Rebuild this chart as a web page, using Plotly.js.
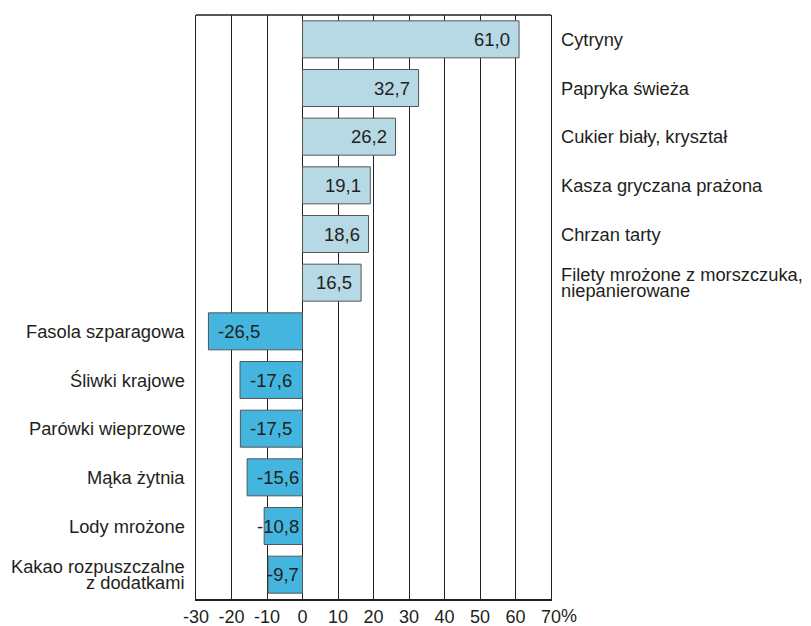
<!DOCTYPE html>
<html>
<head>
<meta charset="utf-8">
<script src="https://cdn.plot.ly/plotly-3.0.1.min.js"></script>
<style>html,body{margin:0;padding:0;background:#fff;}</style>
</head>
<body>
<div id="chart" style="width:811px;height:626px;"></div>
<script>
const categories = [
  "Cytryny",
  "Papryka świeża",
  "Cukier biały, kryształ",
  "Kasza gryczana prażona",
  "Chrzan tarty",
  "Filety mrożone z morszczuka,<br>niepanierowane",
  "Fasola szparagowa",
  "Śliwki krajowe",
  "Parówki wieprzowe",
  "Mąka żytnia",
  "Lody mrożone",
  "Kakao rozpuszczalne<br>z dodatkami"
];
const values = [61.0, 32.7, 26.2, 19.1, 18.6, 16.5, -26.5, -17.6, -17.5, -15.6, -10.8, -9.7];
const tickVals = [-30, -20, -10, 0, 10, 20, 30, 40, 50, 60, 70];
const tickLabels = ["-30", "-20", "-10", "0", "10", "20", "30", "40", "50", "60", "70"];
const unitSuffix = "%";

const posColor = "#b6d9e5";
const negColor = "#44b5de";
const ink = "#231f20";
const font = "Arial, 'Liberation Sans', Helvetica, sans-serif";
const fsVal = 18.5;
const fsCat = 18.3;
const fsTick = 18;

const W = 811, H = 626;
const margin = {l: 196, r: 260, t: 15, b: 27};
const xRange = [-30, 70];
const pxPerUnit = (W - margin.l - margin.r) / (xRange[1] - xRange[0]);

const idx = categories.map((c, i) => i);
const fmt = v => v.toFixed(1).replace(".", ",");

const trace = {
  type: "bar",
  orientation: "h",
  x: values,
  y: idx,
  marker: {
    color: values.map(v => v >= 0 ? posColor : negColor),
    line: {color: "#555555", width: 1}
  },
  hoverinfo: "skip"
};

const annotations = [];
values.forEach((v, i) => {
  const txt = fmt(v);
  const estW = txt.length * 0.5 * fsVal;
  const barW = Math.abs(v) * pxPerUnit;
  let ann;
  if (v >= 0) {
    ann = {x: v, xanchor: "right", xshift: -7};
  } else if (barW >= estW + 14) {
    ann = {x: v, xanchor: "left", xshift: 8};
  } else {
    ann = {x: 0, xanchor: "right", xshift: -2};
  }
  annotations.push(Object.assign(ann, {
    xref: "x", yref: "y", y: i,
    text: txt, showarrow: false,
    font: {family: font, size: fsVal, color: ink}
  }));
  const lines = categories[i].split("<br>");
  const n = lines.length;
  lines.forEach((ln, k) => {
    annotations.push({
      xref: "paper", yref: "y",
      x: v >= 0 ? 1 : 0, y: i,
      text: ln, showarrow: false,
      xanchor: v >= 0 ? "left" : "right",
      xshift: v >= 0 ? 8 : -9,
      yshift: -(k - (n - 1) / 2) * 16.5,
      font: {family: font, size: fsCat, color: ink}
    });
  });
});
annotations.push({
  xref: "x", yref: "paper", x: tickVals[tickVals.length - 1], y: 0,
  text: unitSuffix, showarrow: false, xanchor: "left", yanchor: "top",
  xshift: 8, yshift: -5,
  font: {family: font, size: fsTick, color: ink}
});

const layout = {
  width: W, height: H,
  margin: margin,
  paper_bgcolor: "#ffffff", plot_bgcolor: "#ffffff",
  showlegend: false,
  bargap: 0.24,
  xaxis: {
    range: xRange,
    tickmode: "array", tickvals: tickVals, ticktext: tickLabels,
    showgrid: true, gridcolor: ink, gridwidth: 1,
    zeroline: true, zerolinecolor: ink, zerolinewidth: 1,
    showline: true, linecolor: ink, linewidth: 2,
    ticks: "", ticklabelstandoff: 0,
    tickfont: {family: font, size: fsTick, color: ink},
    fixedrange: true
  },
  yaxis: {
    range: [categories.length - 0.5, -0.5],
    showticklabels: false, showgrid: false, zeroline: false,
    showline: true, mirror: true, linecolor: ink, linewidth: 1,
    ticks: "", fixedrange: true
  },
  shapes: [{
    type: "line", xref: "paper", yref: "paper", x0: 0, x1: 1, y0: 1, y1: 1,
    line: {color: ink, width: 1.5}
  }],
  annotations: annotations
};

Plotly.newPlot("chart", [trace], layout, {displayModeBar: false, staticPlot: true});
</script>
</body>
</html>
